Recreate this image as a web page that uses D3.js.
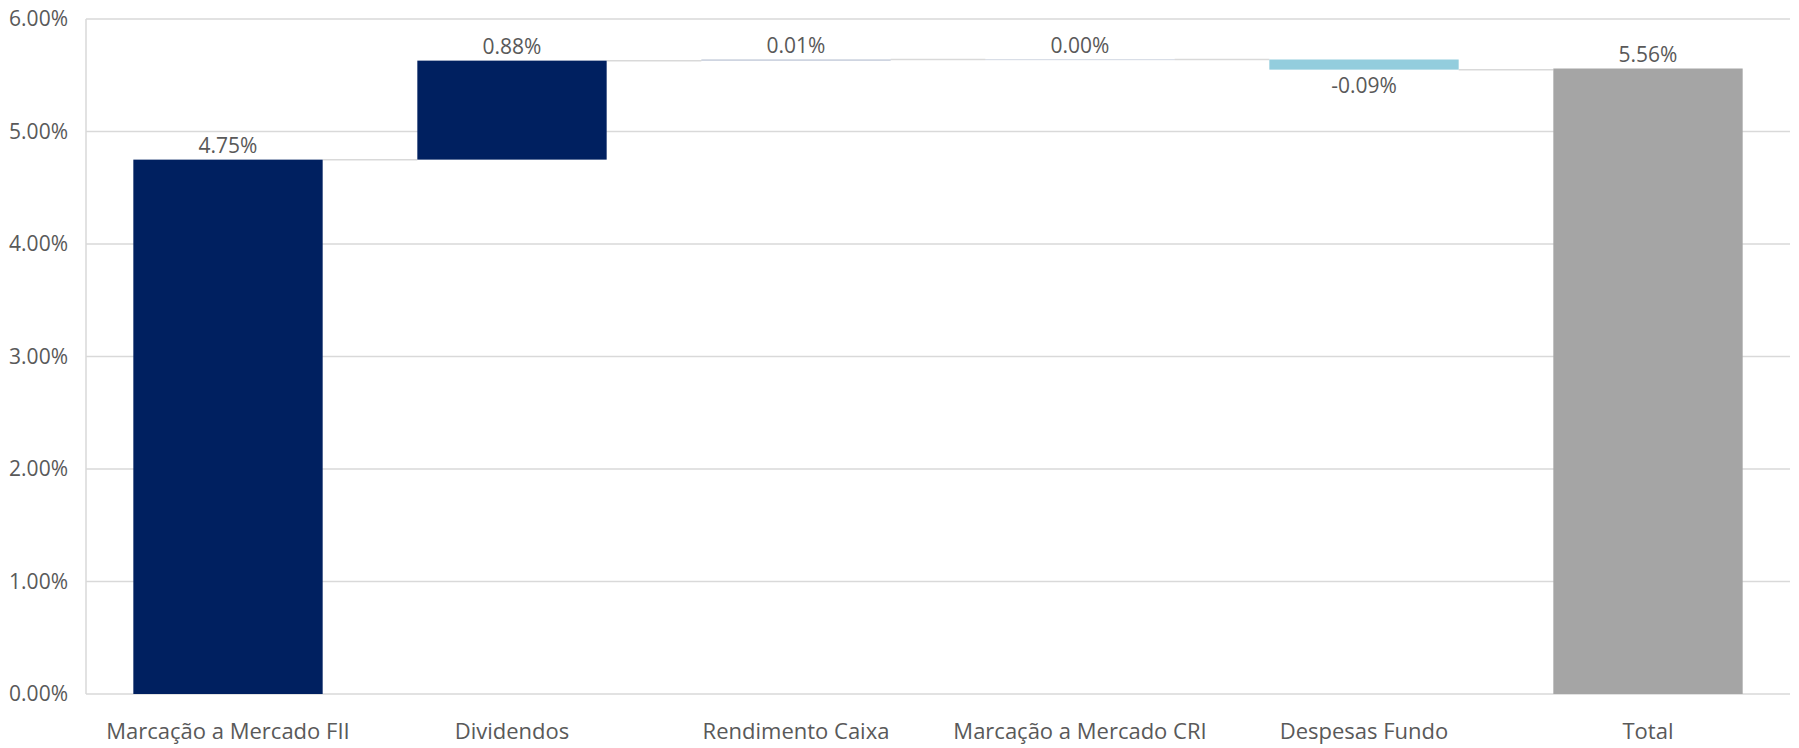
<!DOCTYPE html>
<html>
<head>
<meta charset="utf-8">
<script src="https://cdn.jsdelivr.net/npm/d3@7"></script>
<style>
  body { margin: 0; background: #fff; }
  svg text { font-family: "Open Sans", "Noto Sans", sans-serif; fill: #595959; }
</style>
</head>
<body>
<svg id="chart" width="1799" height="748"></svg>
<script>
// data
const categories = ["Marcação a Mercado FII", "Dividendos", "Rendimento Caixa", "Marcação a Mercado CRI", "Despesas Fundo", "Total"];
const values = [4.75, 0.88, 0.01, 0.00, -0.09, 5.56];
const kinds = ["up", "up", "up", "up", "down", "total"];
const yTicks = [0, 1, 2, 3, 4, 5, 6];

const colors = { up: "#002060", down: "#93CDDD", total: "#A5A5A5" };

const svg = d3.select('#chart');
const margin = { top: 19, right: 9, bottom: 54, left: 86 };
const width = 1799;
const height = 748;
const innerW = width - margin.left - margin.right;
const innerH = height - margin.top - margin.bottom;

// plain hyphen for negatives, like the original
const locale = d3.formatLocale({ decimal: ".", thousands: ",", grouping: [3], currency: ["", ""], minus: "-" });
const pct = v => locale.format('.2%')(v / 100);

const g = svg.append('g').attr('transform', `translate(${margin.left},${margin.top})`);

const x = d3.scaleBand()
    .domain(categories)
    .range([0, innerW])
    .paddingInner(1 / 3)
    .paddingOuter(1 / 6);

const y = d3.scaleLinear().domain([0, 6]).range([innerH, 0]);

// build waterfall steps
let running = 0;
const steps = categories.map((c, i) => {
    let start, end;
    if (kinds[i] === "total") {
        start = 0; end = values[i];
    } else {
        start = running; end = running + values[i];
        running = end;
    }
    return { cat: c, value: values[i], kind: kinds[i], start, end };
});

// gridlines
g.selectAll('.grid')
    .data(yTicks)
    .enter()
    .append('line')
    .attr('x1', 0)
    .attr('x2', innerW)
    .attr('y1', d => y(d))
    .attr('y2', d => y(d))
    .attr('stroke', '#d9d9d9')
    .attr('stroke-width', 1.5);

// left axis line
g.append('line')
    .attr('x1', 0).attr('x2', 0)
    .attr('y1', 0).attr('y2', innerH)
    .attr('stroke', '#d9d9d9')
    .attr('stroke-width', 1.5);

// y labels
g.selectAll('.ylab')
    .data(yTicks)
    .enter()
    .append('text')
    .attr('x', -18)
    .attr('y', d => y(d))
    .attr('dy', '0.35em')
    .attr('text-anchor', 'end')
    .style('font-size', '21px')
    .text(d => pct(d));

// connectors
const links = steps.slice(0, -1).map((s, i) => ({ from: s, to: steps[i + 1], level: s.end }));
g.selectAll('.link')
    .data(links)
    .enter()
    .append('line')
    .attr('x1', d => x(d.from.cat) + x.bandwidth())
    .attr('x2', d => x(d.to.cat))
    .attr('y1', d => y(d.level))
    .attr('y2', d => y(d.level))
    .attr('stroke', '#d9d9d9')
    .attr('stroke-width', 1.5);

// bars
g.selectAll('.bar')
    .data(steps)
    .enter()
    .append('rect')
    .attr('x', d => x(d.cat))
    .attr('width', x.bandwidth())
    .attr('y', d => y(Math.max(d.start, d.end)))
    .attr('height', d => Math.max(0.6, Math.abs(y(d.start) - y(d.end))))
    .attr('fill', d => colors[d.kind])
    .attr('opacity', d => Math.abs(d.end - d.start) < 0.02 ? 0.3 : 1);

// value labels
g.selectAll('.vlab')
    .data(steps)
    .enter()
    .append('text')
    .attr('x', d => x(d.cat) + x.bandwidth() / 2)
    .attr('y', d => d.value < 0 ? y(Math.min(d.start, d.end)) + 23 : y(Math.max(d.start, d.end)) - 7)
    .attr('text-anchor', 'middle')
    .style('font-size', '21px')
    .text(d => pct(d.value));

// x labels
g.selectAll('.xlab')
    .data(categories)
    .enter()
    .append('text')
    .attr('x', d => x(d) + x.bandwidth() / 2)
    .attr('y', innerH + 45)
    .attr('text-anchor', 'middle')
    .style('font-size', '22px')
    .text(d => d);
</script>
</body>
</html>
